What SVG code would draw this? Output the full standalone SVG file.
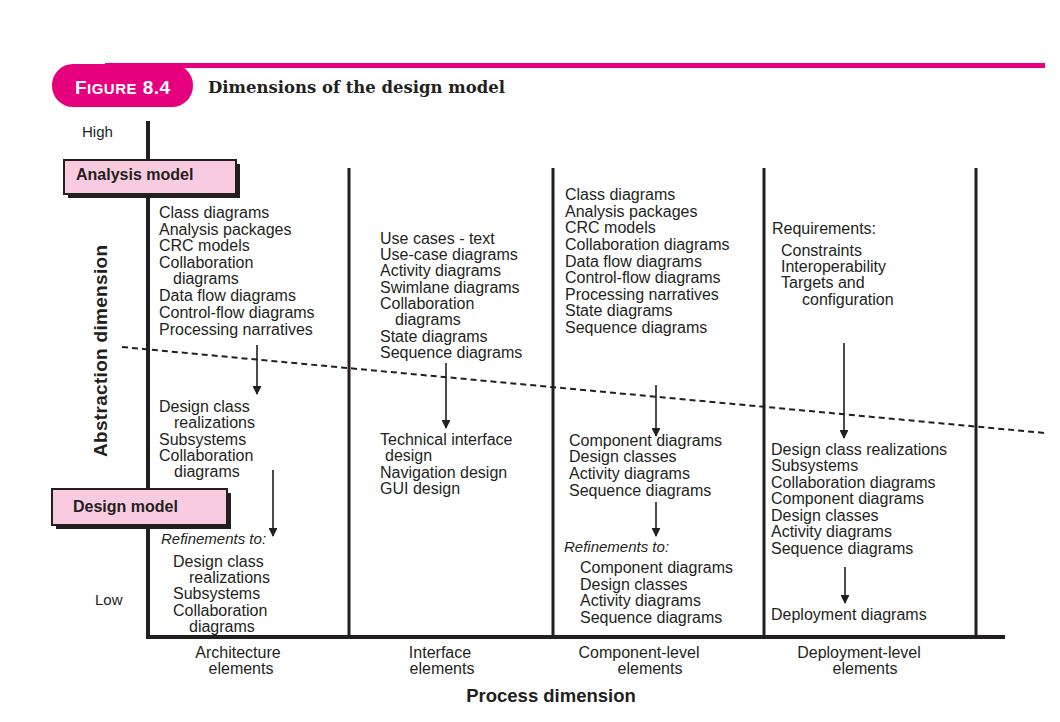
<svg xmlns="http://www.w3.org/2000/svg" width="1060" height="722" viewBox="0 0 1060 722">
<style>
.t{font-family:"Liberation Sans",Arial,sans-serif;font-size:16px;fill:#231f20}
.it{font-family:"Liberation Sans",Arial,sans-serif;font-size:15px;font-style:italic;fill:#231f20}
.b{font-family:"Liberation Sans",Arial,sans-serif;font-weight:bold;fill:#231f20}
.ax{stroke:#231f20;stroke-width:4;fill:none}
.col{stroke:#231f20;stroke-width:3;fill:none}
.arr{stroke:#231f20;stroke-width:1.6;fill:none;marker-end:url(#ah)}
.box{fill:#f9cbe0;stroke:#231f20;stroke-width:2}
.sh{fill:#231f20}
</style>
<defs>
<marker id="ah" viewBox="0 0 10 10" refX="9" refY="5" markerWidth="5.5" markerHeight="5.5" orient="auto" markerUnits="strokeWidth">
<path d="M0,0 L10,5 L0,10 z" fill="#231f20"/>
</marker>
</defs>
<rect width="1060" height="722" fill="#ffffff"/>

<g id="header">
<rect x="105" y="63" width="940" height="5" fill="#e6007e"/>
<rect x="52" y="64" width="141" height="43" rx="21" ry="21" fill="#e6007e"/>
<text x="75" y="94" font-family="Liberation Sans,Arial,sans-serif" font-weight="bold" fill="#ffffff" textLength="95"><tspan font-size="19">F</tspan><tspan font-size="15">IGURE</tspan><tspan font-size="19"> 8.4</tspan></text>
<text x="208" y="93" font-family="DejaVu Serif,Liberation Serif,serif" font-weight="bold" font-size="17" fill="#231f20" textLength="297" lengthAdjust="spacingAndGlyphs">Dimensions of the design model</text>
</g>

<g id="axes">
<line class="ax" x1="148" y1="121" x2="148" y2="639"/>
<line class="ax" x1="146" y1="637" x2="1005" y2="637"/>
<line class="col" x1="349" y1="168" x2="349" y2="637"/>
<line class="col" x1="553" y1="168" x2="553" y2="637"/>
<line class="col" x1="764" y1="168" x2="764" y2="637"/>
<line class="col" x1="976" y1="168" x2="976" y2="637"/>
<text class="t" x="82" y="137" style="font-size:15px">High</text>
<text class="t" x="95" y="605" style="font-size:15px">Low</text>
<text class="b" font-size="19" text-anchor="middle" transform="translate(107,351) rotate(-90)" textLength="212">Abstraction dimension</text>
<text class="b" font-size="18.5" x="551" y="702" text-anchor="middle">Process dimension</text>
</g>

<g id="boundary">
<line x1="122" y1="347" x2="1045" y2="433" stroke="#231f20" stroke-width="2" stroke-dasharray="6,4"/>
</g>

<g id="analysis-model">
<rect class="sh" x="68" y="164" width="172" height="34"/>
<rect class="box" x="64" y="160" width="172" height="34"/>
<text class="b" font-size="16" x="76" y="180">Analysis model</text>
</g>

<g id="design-model">
<rect class="sh" x="56" y="493" width="175" height="36"/>
<rect class="box" x="52" y="489" width="175" height="36"/>
<text class="b" font-size="16" x="73" y="512">Design model</text>
</g>

<g id="arch-analysis">
<text class="t" x="159" y="218">Class diagrams</text>
<text class="t" x="159" y="235">Analysis packages</text>
<text class="t" x="159" y="251">CRC models</text>
<text class="t" x="159" y="268">Collaboration</text>
<text class="t" x="173" y="284">diagrams</text>
<text class="t" x="159" y="301">Data flow diagrams</text>
<text class="t" x="159" y="318">Control-flow diagrams</text>
<text class="t" x="159" y="335">Processing narratives</text>
</g>

<g id="arch-design">
<text class="t" x="159" y="412">Design class</text>
<text class="t" x="174" y="428">realizations</text>
<text class="t" x="159" y="445">Subsystems</text>
<text class="t" x="159" y="461">Collaboration</text>
<text class="t" x="174" y="477">diagrams</text>
</g>

<g id="arch-refine">
<text class="it" x="161" y="544">Refinements to:</text>
<text class="t" x="173" y="567">Design class</text>
<text class="t" x="189" y="583">realizations</text>
<text class="t" x="173" y="599">Subsystems</text>
<text class="t" x="173" y="616">Collaboration</text>
<text class="t" x="189" y="632">diagrams</text>
</g>

<g id="iface-analysis">
<text class="t" x="380" y="244">Use cases - text</text>
<text class="t" x="380" y="260">Use-case diagrams</text>
<text class="t" x="380" y="276">Activity diagrams</text>
<text class="t" x="380" y="293">Swimlane diagrams</text>
<text class="t" x="380" y="309">Collaboration</text>
<text class="t" x="395" y="325">diagrams</text>
<text class="t" x="380" y="342">State diagrams</text>
<text class="t" x="380" y="358">Sequence diagrams</text>
</g>

<g id="iface-design">
<text class="t" x="380" y="445">Technical interface</text>
<text class="t" x="385" y="461">design</text>
<text class="t" x="380" y="478">Navigation design</text>
<text class="t" x="380" y="494">GUI design</text>
</g>

<g id="comp-analysis">
<text class="t" x="565" y="200">Class diagrams</text>
<text class="t" x="565" y="217">Analysis packages</text>
<text class="t" x="565" y="233">CRC models</text>
<text class="t" x="565" y="250">Collaboration diagrams</text>
<text class="t" x="565" y="267">Data flow diagrams</text>
<text class="t" x="565" y="283">Control-flow diagrams</text>
<text class="t" x="565" y="300">Processing narratives</text>
<text class="t" x="565" y="316">State diagrams</text>
<text class="t" x="565" y="333">Sequence diagrams</text>
</g>

<g id="comp-design">
<text class="t" x="569" y="446">Component diagrams</text>
<text class="t" x="569" y="462">Design classes</text>
<text class="t" x="569" y="479">Activity diagrams</text>
<text class="t" x="569" y="496">Sequence diagrams</text>
</g>

<g id="comp-refine">
<text class="it" x="564" y="552">Refinements to:</text>
<text class="t" x="580" y="573">Component diagrams</text>
<text class="t" x="580" y="590">Design classes</text>
<text class="t" x="580" y="606">Activity diagrams</text>
<text class="t" x="580" y="623">Sequence diagrams</text>
</g>

<g id="deploy-analysis">
<text class="t" x="772" y="234">Requirements:</text>
<text class="t" x="781" y="256">Constraints</text>
<text class="t" x="781" y="272">Interoperability</text>
<text class="t" x="781" y="288">Targets and</text>
<text class="t" x="802" y="305">configuration</text>
</g>

<g id="deploy-design">
<text class="t" x="771" y="455">Design class realizations</text>
<text class="t" x="771" y="471">Subsystems</text>
<text class="t" x="771" y="488">Collaboration diagrams</text>
<text class="t" x="771" y="504">Component diagrams</text>
<text class="t" x="771" y="521">Design classes</text>
<text class="t" x="771" y="537">Activity diagrams</text>
<text class="t" x="771" y="554">Sequence diagrams</text>
</g>

<g id="deploy-final">
<text class="t" x="771" y="620">Deployment diagrams</text>
</g>

<g id="column-labels">
<text class="t" x="238" y="658" text-anchor="middle">Architecture</text>
<text class="t" x="241" y="674" text-anchor="middle">elements</text>
<text class="t" x="440" y="658" text-anchor="middle">Interface</text>
<text class="t" x="442" y="674" text-anchor="middle">elements</text>
<text class="t" x="639" y="658" text-anchor="middle">Component-level</text>
<text class="t" x="650" y="674" text-anchor="middle">elements</text>
<text class="t" x="859" y="658" text-anchor="middle">Deployment-level</text>
<text class="t" x="865" y="674" text-anchor="middle">elements</text>
</g>

<g id="connectors">
<line class="arr" x1="257" y1="345" x2="257" y2="394"/>
<line class="arr" x1="273" y1="470" x2="273" y2="536"/>
<line class="arr" x1="446" y1="363" x2="446" y2="428"/>
<line class="arr" x1="656" y1="385" x2="656" y2="436"/>
<line class="arr" x1="656" y1="502" x2="656" y2="536"/>
<line class="arr" x1="844" y1="343" x2="844" y2="438"/>
<line class="arr" x1="845" y1="567" x2="845" y2="603"/>
</g>
</svg>
